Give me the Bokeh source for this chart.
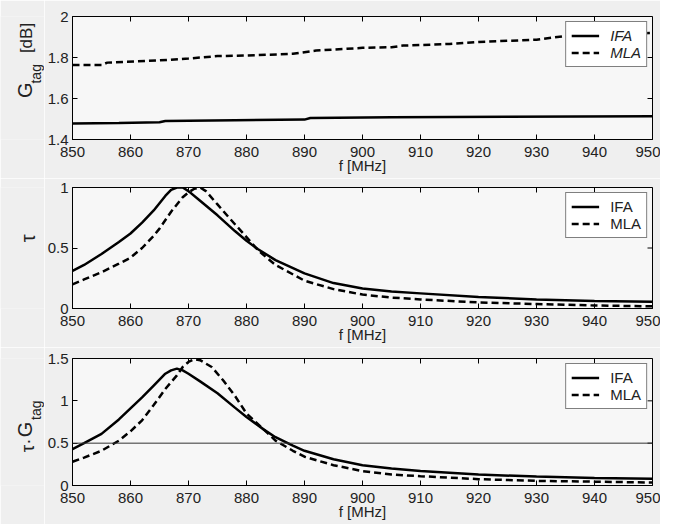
import math
from bokeh.plotting import figure
from bokeh.layouts import column, row
from bokeh.models import FixedTicker, Span, Legend, LegendItem, Range1d, NumeralTickFormatter
from bokeh.core.properties import value
from bokeh.embed import file_html
from bokeh.resources import INLINE

# ---------------- data ----------------
x_ticks = [850, 860, 870, 880, 890, 900, 910, 920, 930, 940, 950]

# panel 1: G_tag [dB]
f_g_ifa = [850, 858, 865, 866, 878, 890, 891, 905, 925, 950]
g_ifa = [1.478, 1.480, 1.484, 1.490, 1.494, 1.497, 1.505, 1.508, 1.511, 1.514]
f_g_mla = [850, 855, 856, 865, 870, 875, 880, 888, 892, 900, 905, 907, 915, 920, 930, 935, 950]
g_mla = [1.763, 1.763, 1.775, 1.786, 1.795, 1.807, 1.810, 1.818, 1.834, 1.847, 1.850, 1.858, 1.866, 1.876, 1.887, 1.905, 1.920]
g_yticks = [1.4, 1.6, 1.8, 2.0]

# panel 2: tau
f_t_ifa = [850, 852, 855, 858, 860, 862, 864, 866, 867, 868, 869, 870, 872, 875, 878, 880, 882,
           885, 890, 895, 900, 905, 910, 920, 930, 940, 950]
t_ifa = [0.31, 0.36, 0.45, 0.55, 0.62, 0.71, 0.81, 0.93, 0.98, 1.0, 1.0, 0.97, 0.89, 0.77, 0.64, 0.56, 0.49,
         0.40, 0.29, 0.21, 0.165, 0.14, 0.125, 0.095, 0.075, 0.062, 0.055]
f_t_mla = [850, 852, 855, 858, 860, 862, 864, 865, 867, 869, 870, 871, 872, 873, 875, 877, 880, 882,
           885, 890, 895, 900, 905, 910, 920, 930, 940, 950]
t_mla = [0.20, 0.24, 0.30, 0.37, 0.42, 0.50, 0.60, 0.66, 0.80, 0.92, 0.96, 0.99, 1.0, 0.97, 0.86, 0.75, 0.59, 0.48,
         0.36, 0.23, 0.16, 0.115, 0.09, 0.075, 0.05, 0.037, 0.025, 0.018]
t_yticks = [0.0, 0.5, 1.0]

# panel 3: tau * G_tag
f_p_ifa = [850, 852, 855, 858, 860, 862, 864, 866, 867, 868, 869, 870, 872, 875, 878, 880, 883,
           885, 888, 890, 895, 900, 905, 910, 920, 930, 940, 950]
p_ifa = [0.43, 0.50, 0.61, 0.78, 0.91, 1.04, 1.18, 1.32, 1.36, 1.38, 1.36, 1.32, 1.23, 1.09, 0.92, 0.81, 0.66,
         0.57, 0.47, 0.41, 0.31, 0.24, 0.20, 0.17, 0.13, 0.105, 0.09, 0.08]
f_p_mla = [850, 852, 855, 858, 860, 862, 864, 866, 868, 869, 870, 871, 872, 874, 876, 878, 880, 883,
           885, 888, 890, 895, 900, 905, 910, 920, 930, 940, 950]
p_mla = [0.28, 0.33, 0.41, 0.53, 0.64, 0.77, 0.95, 1.14, 1.30, 1.40, 1.46, 1.49, 1.48, 1.40, 1.24, 1.06, 0.85, 0.66,
         0.53, 0.41, 0.34, 0.24, 0.17, 0.13, 0.11, 0.075, 0.055, 0.045, 0.035]
p_yticks = [0.0, 0.5, 1.0, 1.5]
p_ref = 0.5

labels = ["IFA", "MLA"]

FONT = "Liberation Sans"
BG = "#efefef"
FRAME_BG = "#f7f7f7"
TXT = "#222222"
LAB_W = 44          # width of the strip holding the rotated y-axis titles
X0, X1 = 850, 950


def make_panel(height, y0, y1, yticks, fi, yi, fm, ym, italic, top_border):
    p = figure(width=616, height=height, output_backend="svg", toolbar_location=None,
               x_range=Range1d(X0, X1), y_range=Range1d(y0, y1),
               min_border_left=28, min_border_right=8, min_border_top=top_border,
               min_border_bottom=39,
               background_fill_color=FRAME_BG, border_fill_color=BG, outline_line_color="black")
    p.xgrid.visible = False
    p.ygrid.visible = False
    for ax in (p.xaxis[0], p.yaxis[0]):
        ax.major_tick_in = 5
        ax.major_tick_out = 0
        ax.minor_tick_in = 0
        ax.minor_tick_out = 0
        ax.axis_line_color = "black"
        ax.major_tick_line_color = "black"
        ax.major_label_text_font = FONT
        ax.major_label_text_font_size = "15px"
        ax.major_label_text_color = TXT
    p.xaxis[0].ticker = FixedTicker(ticks=x_ticks)
    p.xaxis[0].major_label_standoff = 7
    p.xaxis[0].axis_label = "f [MHz]"
    p.xaxis[0].axis_label_text_font = FONT
    p.xaxis[0].axis_label_text_font_size = "15px"
    p.xaxis[0].axis_label_text_font_style = "normal"
    p.xaxis[0].axis_label_text_color = TXT
    p.xaxis[0].axis_label_standoff = -3
    p.yaxis[0].ticker = FixedTicker(ticks=yticks)
    p.yaxis[0].formatter = NumeralTickFormatter(format="0.[0]")
    p.yaxis[0].major_label_standoff = 4

    # inward ticks on the top and right frame edges
    p.ray(x=x_ticks, y=[y1] * len(x_ticks), length=5, length_units="screen",
          angle=-math.pi / 2, line_color="black", line_width=1)
    p.ray(x=[X1] * len(yticks), y=yticks, length=5, length_units="screen",
          angle=math.pi, line_color="black", line_width=1)

    r1 = p.line(fi, yi, line_color="black", line_width=2.5)
    r2 = p.line(fm, ym, line_color="black", line_width=2.5, line_dash="7 4")
    leg = Legend(items=[LegendItem(label=labels[0], renderers=[r1]),
                        LegendItem(label=labels[1], renderers=[r2])],
                 location="top_right", margin=5, padding=5, spacing=0,
                 label_height=15, glyph_height=15, glyph_width=28, label_standoff=11,
                 label_text_font=FONT, label_text_font_size="15px",
                 label_text_font_style="italic" if italic else "normal",
                 label_text_color=TXT,
                 border_line_color="black", border_line_width=1,
                 background_fill_color="white", background_fill_alpha=1.0)
    p.add_layout(leg, "center")
    return p


def label_strip(height, pieces):
    # pieces: (text, x, y, font size, align) in pixel coordinates of the strip
    s = figure(width=LAB_W, height=height, output_backend="svg", toolbar_location=None,
               x_range=Range1d(0, LAB_W), y_range=Range1d(0, height),
               min_border=0, background_fill_color=BG, border_fill_color=BG,
               outline_line_color=None)
    s.axis.visible = False
    s.xgrid.visible = False
    s.ygrid.visible = False
    for txt, x, y, size, align in pieces:
        s.text(x=[x], y=[y], text=[txt], angle=math.pi / 2, text_font=value(FONT),
               text_font_size=value(size), text_color=TXT, text_align=align,
               text_baseline="middle")
    return s


H1, H2, H3 = 178, 169, 177

p1 = make_panel(H1, 1.4, 2.0, g_yticks, f_g_ifa, g_ifa, f_g_mla, g_mla, True, 16)
s1 = label_strip(H1, [("G", 24, 60, "20px", "left"),
                      ("tag", 35, 81, "14px", "left"),
                      ("[dB]", 26, 125, "17px", "left")])

p2 = make_panel(H2, 0.0, 1.0, t_yticks, f_t_ifa, t_ifa, f_t_mla, t_mla, False, 9)
s2 = label_strip(H2, [("\u03c4", 27, 98, "20px", "center")])

p3 = make_panel(H3, 0.0, 1.5, p_yticks, f_p_ifa, p_ifa, f_p_mla, p_mla, False, 11)
p3.add_layout(Span(location=p_ref, dimension="width", line_color="#333333", line_width=1))
s3 = label_strip(H3, [("\u03c4\u00b7", 27, 56, "19px", "center"),
                      ("G", 24, 78, "20px", "center"),
                      ("tag", 35, 105, "14px", "center")])

layout = column(row(s1, p1, spacing=0), row(s2, p2, spacing=0), row(s3, p3, spacing=0), spacing=0)
open("out.html", "w").write(file_html(layout, INLINE))
